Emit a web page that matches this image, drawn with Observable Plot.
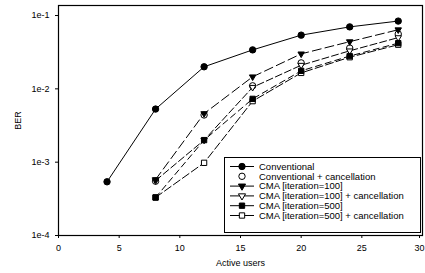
<!DOCTYPE html>
<html><head><meta charset="utf-8">
<script src="https://cdn.jsdelivr.net/npm/d3@7"></script>
<script src="https://cdn.jsdelivr.net/npm/@observablehq/plot@0.6"></script>
<style>
body{margin:0;background:#fff}
#wrap{position:relative;width:425px;height:273px;font-family:"Liberation Sans",Arial,sans-serif}
#legend{position:absolute;left:0;top:0}
</style>
</head><body><div id="wrap"></div>
<script>
const usersConv = [4, 8, 12, 16, 20, 24, 28];
const usersCma = [8, 12, 16, 20, 24, 28];
const conventional = [5.4e-4, 5.3e-3, 0.020, 0.034, 0.054, 0.070, 0.084];
const convCancel = [5.5e-4, 4.4e-3, 0.011, 0.0226, 0.036, 0.056];
const cma100 = [5.8e-4, 4.6e-3, 0.0146, 0.030, 0.044, 0.064];
const cma100Cancel = [5.6e-4, 2.0e-3, 0.0105, 0.021, 0.033, 0.050];
const cma500 = [3.3e-4, 2.0e-3, 0.0073, 0.0176, 0.028, 0.042];
const cma500Cancel = [3.3e-4, 9.8e-4, 0.0068, 0.0165, 0.027, 0.040];
const yTicks = [1e-4, 1e-3, 1e-2, 1e-1];
const xTicks = [0, 5, 10, 15, 20, 25, 30];

const seriesNames = [
  "Conventional",
  "Conventional + cancellation",
  "CMA [iteration=100]",
  "CMA [iteration=100] + cancellation",
  "CMA [iteration=500]",
  "CMA [iteration=500] + cancellation"
];
const styles = [
  {line: true, dash: null, symbol: "circle", fill: "black", rotate: 0, r: 3.2},
  {line: false, dash: null, symbol: "circle", fill: "white", rotate: 0, r: 3.2},
  {line: true, dash: "9,4", symbol: "triangle", fill: "black", rotate: 180, r: 2.4},
  {line: true, dash: "7,3", symbol: "triangle", fill: "white", rotate: 180, r: 2.4},
  {line: true, dash: "6,4", symbol: "square", fill: "black", rotate: 0, r: 3.0},
  {line: true, dash: "8,3", symbol: "square", fill: "white", rotate: 0, r: 3.0}
];
const xs = [usersConv, usersCma, usersCma, usersCma, usersCma, usersCma];
const ys = [conventional, convCancel, cma100, cma100Cancel, cma500, cma500Cancel];
const tables = ys.map((arr, i) => arr.map((v, j) => ({x: xs[i][j], y: v, s: seriesNames[i]})));

const marks = [];
tables.forEach((t, i) => {
  const st = styles[i];
  if (st.line) marks.push(Plot.line(t, {x: "x", y: "y", stroke: "black", strokeWidth: 1, strokeDasharray: st.dash}));
});
[1, 3, 5, 0, 2, 4].forEach(i => {
  const st = styles[i];
  marks.push(Plot.dot(tables[i], {x: "x", y: "y", symbol: () => st.symbol, r: st.r, fill: st.fill, stroke: "black", strokeWidth: 1, rotate: st.rotate}));
});
marks.push(Plot.frame({stroke: "black", strokeWidth: 1.2}));
marks.push(Plot.axisX({ticks: xTicks.slice(0, -1), tickSize: 3, label: "Active users", labelAnchor: "center", labelArrow: "none", labelOffset: 30}));
marks.push(Plot.axisX({ticks: xTicks.slice(-1), tickSize: 3, dx: -3, label: null}));
marks.push(Plot.axisY({ticks: yTicks, tickFormat: d => "1e" + Math.round(Math.log10(d)), tickSize: 3, label: "BER", labelAnchor: "center", labelArrow: "none", labelOffset: 44}));

const plot = Plot.plot({
  width: 425, height: 273,
  marginLeft: 58, marginRight: 3, marginTop: 5, marginBottom: 38,
  style: {fontFamily: '"Liberation Sans", Arial, sans-serif', fontSize: "9px", color: "black", background: "white"},
  x: {domain: [0, 30]},
  y: {type: "log", domain: [1e-4, 0.137]},
  marks
});
document.getElementById("wrap").appendChild(plot);

const lg = d3.select("#wrap").append("svg").attr("id", "legend").attr("width", 425).attr("height", 273);
lg.append("rect").attr("x", 224.5).attr("y", 157.5).attr("width", 196).attr("height", 75).attr("fill", "white").attr("stroke", "black").attr("stroke-width", 1);
const symMap = {circle: d3.symbolCircle, triangle: d3.symbolTriangle, square: d3.symbolSquare};
seriesNames.forEach((name, i) => {
  const st = styles[i];
  const yy = 166.5 + i * 9.8;
  if (st.line) lg.append("line").attr("x1", 230).attr("x2", 254).attr("y1", yy).attr("y2", yy).attr("stroke", "black");
  const area = st.symbol === "triangle" ? 22 : Math.PI * st.r * st.r;
  lg.append("path").attr("d", d3.symbol(symMap[st.symbol], area)())
    .attr("transform", `translate(242,${yy}) rotate(${st.rotate})`)
    .attr("fill", st.fill).attr("stroke", "black");
  lg.append("text").attr("x", 259).attr("y", yy).attr("dy", "0.35em").attr("font-size", "9.5px").attr("fill", "black").text(name);
});
</script>
</body></html>
